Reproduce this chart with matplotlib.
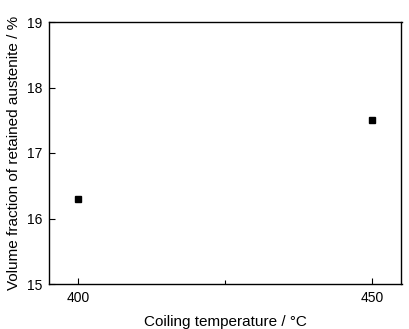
import matplotlib.pyplot as plt
from matplotlib.ticker import MultipleLocator

plt.rcParams['font.family'] = ['Liberation Sans', 'DejaVu Sans']

coiling_temp = [400, 450]
retained_austenite = [16.3, 17.5]

fig = plt.figure(figsize=(4.1, 3.29), dpi=100)
ax = fig.add_axes([49/410, 1 - 284/329, (401.5 - 49)/410, (284 - 22)/329])

ax.plot(coiling_temp, retained_austenite, 's', color='black', markersize=5, linestyle='none')

ax.set_xlim(395, 455)
ax.set_ylim(15, 19)
ax.xaxis.set_major_locator(MultipleLocator(50))
ax.xaxis.set_minor_locator(MultipleLocator(25))
ax.yaxis.set_major_locator(MultipleLocator(1))
ax.tick_params(direction='in', which='both', top=False, right=False, labelsize=10, length=4, width=0.8, pad=5)
ax.tick_params(which='minor', length=3)
for s in ax.spines.values():
    s.set_linewidth(1.0)

ax.set_xlabel('Coiling temperature / °C', fontsize=11, labelpad=7)
ax.set_ylabel('Volume fraction of retained austenite / %', fontsize=11, labelpad=4)

fig.savefig('out.png', dpi=100)
